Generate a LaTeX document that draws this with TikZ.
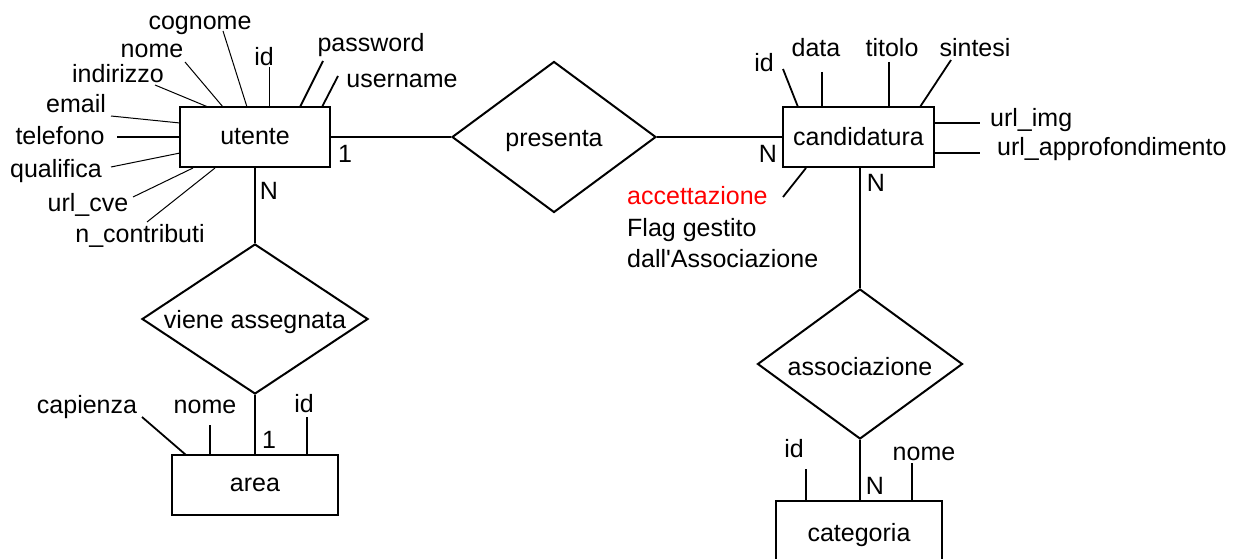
\documentclass[tikz,border=0pt]{standalone}
\usepackage{fontspec}
\setmainfont{Liberation Sans}
\usetikzlibrary{shapes.geometric}
\begin{document}
\begin{tikzpicture}[x=1pt,y=-1pt,font=\fontsize{25}{30}\selectfont,
  entity/.style={draw,line width=2pt,rectangle,inner sep=0pt},
  relation/.style={draw,line width=2pt,diamond,inner sep=0pt},
  link/.style={line width=2pt},
  thinattr/.style={line width=1pt},
  attr/.style={line width=1.8pt},
  lab/.style={inner sep=0pt,anchor=base},
  labw/.style={inner sep=0pt,anchor=base west}]
\useasboundingbox (0,0) rectangle (1236,559);
\fill[white] (0,0) rectangle (1236,559);

% entities and relations
\node[entity,minimum width=150pt,minimum height=60pt] (ut) at (255,137) {utente};
\node[entity,minimum width=151pt,minimum height=60pt] (ca) at (858.5,137) {candidatura};
\node[entity,minimum width=166pt,minimum height=60pt] (ar) at (255,485) {area};
\node[entity,minimum width=166pt,minimum height=61pt] (cat) at (859,531.5) {};
\node[lab] (catt) at (859,541) {categoria};
\node[relation,minimum width=204pt,minimum height=151pt,label={[yshift=-4pt]center:presenta}] (pr) at (554,137) {};
\node[relation,minimum width=226pt,minimum height=150pt,label={[yshift=-3pt]center:viene assegnata}] (va) at (255,319) {};
\node[relation,minimum width=205pt,minimum height=150pt,label={[yshift=-3pt]center:associazione}] (as) at (860,364) {};

% relationship links
\draw[link] (ut.east) -- (pr.west);
\draw[link] (pr.east) -- (ca.west);
\draw[link] (ut.south) -- (va.north);
\draw[link] (va.south) -- (ar.north);
\draw[link] (as.north |- ca.south) -- (as.north);
\draw[link] (as.south) -- (as.south |- cat.north);

% cardinalities
\node[lab] (c1) at (345,162) {1};
\node[lab] (c2) at (269,199) {N};
\node[lab] (c3) at (768,162) {N};
\node[lab] (c4) at (876,191) {N};
\node[lab] (c5) at (269,448) {1};
\node[lab] (c6) at (875,494) {N};

% utente attributes
\node[lab] (u1) at (200,30) {cognome};
\node[lab] (u2) at (152,58) {nome};
\node[lab] (u3) at (118,83) {indirizzo};
\node[lab] (u4) at (76,113) {email};
\node[lab] (u5) at (60,144) {telefono};
\node[lab] (u6) at (56,177) {qualifica};
\node[lab] (u7) at (88,211) {url\_cve};
\node[lab] (u8) at (140,242) {n\_contributi};
\node[lab] (u9) at (264,66) {id};
\node[lab] (u10) at (371,52) {password};
\node[lab] (u11) at (402,88) {username};
\coordinate (u1a) at (223,31);  \coordinate (u1b) at (247,107);
\coordinate (u2a) at (185,62);  \coordinate (u2b) at (223,107);
\coordinate (u3a) at (155,85);  \coordinate (u3b) at (208,107);
\coordinate (u4a) at (111,116); \coordinate (u4b) at (180,123);
\coordinate (u5a) at (117,137); \coordinate (u5b) at (180,137);
\coordinate (u6a) at (111,167); \coordinate (u6b) at (180,153);
\coordinate (u7a) at (133,197); \coordinate (u7b) at (193,168);
\coordinate (u8a) at (147,222); \coordinate (u8b) at (215,168);
\coordinate (u9a) at (269,67);  \coordinate (u9b) at (269,107);
\coordinate (u10a) at (323,61); \coordinate (u10b) at (300,107);
\coordinate (u11a) at (338,76); \coordinate (u11b) at (322,107);
\draw[thinattr] (u1a) -- (u1b);
\draw[thinattr] (u2a) -- (u2b);
\draw[thinattr] (u3a) -- (u3b);
\draw[thinattr] (u4a) -- (u4b);
\draw[attr] (u5a) -- (u5b);
\draw[thinattr] (u6a) -- (u6b);
\draw[thinattr] (u7a) -- (u7b);
\draw[thinattr] (u8a) -- (u8b);
\draw[thinattr] (u9a) -- (u9b);
\draw[attr] (u10a) -- (u10b);
\draw[attr] (u11a) -- (u11b);

% candidatura attributes
\node[lab] (k1) at (764,72) {id};
\node[lab] (k2) at (816,57) {data};
\node[lab] (k3) at (892,57) {titolo};
\node[lab] (k4) at (975,57) {sintesi};
\node[labw] (k5) at (990,127) {url\_img};
\node[labw] (k6) at (997,155) {url\_approfondimento};
\node[labw,text=red] (k7) at (627,204) {accettazione};
\node[labw] (k8) at (627,236) {Flag gestito};
\node[labw] (k9) at (627,267) {dall\textquotesingle Associazione};
\coordinate (k1a) at (783,69);  \coordinate (k1b) at (798,107);
\coordinate (k2a) at (822,72);  \coordinate (k2b) at (822,107);
\coordinate (k3a) at (889,62);  \coordinate (k3b) at (889,107);
\coordinate (k4a) at (951,60);  \coordinate (k4b) at (920,107);
\coordinate (k5a) at (934,123); \coordinate (k5b) at (980,123);
\coordinate (k6a) at (934,153); \coordinate (k6b) at (980,153);
\coordinate (k7a) at (806,168); \coordinate (k7b) at (783,197);
\draw[attr] (k1a) -- (k1b);
\draw[attr] (k2a) -- (k2b);
\draw[attr] (k3a) -- (k3b);
\draw[attr] (k4a) -- (k4b);
\draw[attr] (k5a) -- (k5b);
\draw[attr] (k6a) -- (k6b);
\draw[attr] (k7a) -- (k7b);

% area attributes
\node[lab] (a1) at (87,413) {capienza};
\node[lab] (a2) at (205,413) {nome};
\node[lab] (a3) at (304,412) {id};
\coordinate (a1a) at (142,417); \coordinate (a1b) at (186,455);
\coordinate (a2a) at (210,425); \coordinate (a2b) at (210,455);
\coordinate (a3a) at (307,417); \coordinate (a3b) at (307,455);
\draw[attr] (a1a) -- (a1b);
\draw[attr] (a2a) -- (a2b);
\draw[attr] (a3a) -- (a3b);

% categoria attributes
\node[lab] (g1) at (794,457) {id};
\node[lab] (g2) at (924,460) {nome};
\coordinate (g1a) at (806,469); \coordinate (g1b) at (806,501);
\coordinate (g2a) at (912,463); \coordinate (g2b) at (912,501);
\draw[attr] (g1a) -- (g1b);
\draw[attr] (g2a) -- (g2b);
\end{tikzpicture}
\end{document}
